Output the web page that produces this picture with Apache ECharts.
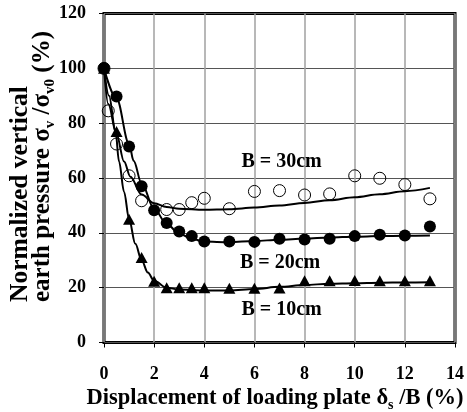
<!DOCTYPE html>
<html>
<head>
<meta charset="utf-8">
<script src="https://cdn.jsdelivr.net/npm/echarts@6/dist/echarts.min.js"></script>
<style>
  html, body { margin: 0; padding: 0; background: #fff; }
  #chart { width: 467px; height: 412px; }
</style>
</head>
<body>
<div id="chart"></div>
<script>
// Axis ticks
const xTicks = [0, 2, 4, 6, 8, 10, 12, 14];
const yTicks = [0, 20, 40, 60, 80, 100, 120];

// Measured points [displacement %, normalized pressure %]
const pointsB30 = [[0,100],[0.17,84.5],[0.5,72.4],[1,60.8],[1.5,51.7],[2.5,48.5],[3,48.5],[3.5,51],[4,52.6],[5,48.8],[6,55.1],[7,55.4],[8,53.8],[9,54.2],[10,60.8],[11,59.9],[12,57.6],[13,52.4]];
const pointsB20 = [[0,100],[0.5,89.7],[1,71.5],[1.5,57],[2,48.2],[2.5,43.6],[3,40.5],[3.5,38.8],[4,36.8],[5,36.8],[6,36.7],[7,37.8],[8,37.6],[9,37.8],[10,38.8],[11,39.3],[12,39],[13,42.3]];
const pointsB10 = [[0,100],[0.5,77],[1,45],[1.5,31],[2,22.3],[2.5,20],[3,20],[3.5,20],[4,20],[5,19.8],[6,19.8],[7,19.9],[8,22.5],[9,22.5],[10,22.6],[11,22.5],[12,22.5],[13,22.5]];

// Trend curves drawn through each data set
const trendB30 = [[0,100],[0.17,87],[0.5,76],[0.8,66],[1.05,60.5],[1.5,54],[2,50.8],[2.5,49.4],[3,48.8],[4,48.4],[5,48.6],[6,49.2],[7,50],[8,50.9],[9,51.9],[10,53],[11,54.1],[12,55.2],[13,56.4]];
const trendB20 = [[0,100],[0.5,89],[1,72.5],[1.18,66.3],[1.5,58],[2,48.8],[2.5,43.2],[3,39.8],[3.5,37.8],[4,36.8],[5,36.6],[6,37],[7,37.5],[8,37.9],[9,38.3],[10,38.6],[11,38.8],[12,38.9],[13,39]];
const trendB10 = [[0,100],[0.2,90],[0.46,77],[0.6,66],[0.8,55],[1,45],[1.25,36],[1.5,30],[1.75,25.5],[2,22.5],[2.5,20],[3,19.3],[4,19],[5,19],[6,19.5],[7,20.3],[8,21],[9,21.4],[10,21.6],[11,21.8],[12,21.9],[13,22]];

const seriesLabels = ['B = 30cm', 'B = 20cm', 'B = 10cm'];

const FONT = "'Liberation Serif', 'Times New Roman', serif";

const chart = echarts.init(document.getElementById('chart'), null, { renderer: 'canvas' });

function trendSeries(data) {
  return {
    type: 'line', data: data, showSymbol: false, smooth: 0.35, smoothMonotone: 'x',
    lineStyle: { color: '#000', width: 2 }, silent: true, z: 2
  };
}

const option = {
  animation: false,
  backgroundColor: '#fff',
  grid: {
    left: 104, right: 10.3, top: 13.5, bottom: 69.5,
    show: true, borderColor: '#000', borderWidth: 3, backgroundColor: 'transparent'
  },
  xAxis: {
    type: 'value', min: xTicks[0], max: xTicks[xTicks.length - 1], interval: 2,
    axisLine: { show: false },
    axisTick: { show: true, length: 5, lineStyle: { color: '#000', width: 1 } },
    axisLabel: { margin: 23, color: '#000', fontFamily: FONT, fontWeight: 'bold', fontSize: 18 },
    splitLine: { show: true, lineStyle: { color: '#a0a0a0', width: 1.5 } }
  },
  yAxis: {
    type: 'value', min: yTicks[0], max: yTicks[yTicks.length - 1], interval: 20,
    axisLine: { show: false },
    axisTick: { show: true, length: 5, lineStyle: { color: '#000', width: 1 } },
    axisLabel: { margin: 18, color: '#000', fontFamily: FONT, fontWeight: 'bold', fontSize: 18 },
    splitLine: { show: true, lineStyle: { color: '#555', width: 1 } }
  },
  series: [
    trendSeries(trendB30),
    trendSeries(trendB20),
    trendSeries(trendB10),
    {
      type: 'scatter', data: pointsB30, symbol: 'circle', symbolSize: 12, z: 3,
      itemStyle: { color: 'rgba(0,0,0,0)', borderColor: '#000', borderWidth: 1, opacity: 1 }
    },
    {
      type: 'scatter', data: pointsB20, symbol: 'circle', symbolSize: 12, z: 4,
      itemStyle: { color: '#000', opacity: 1 }
    },
    {
      type: 'scatter', data: pointsB10, symbol: 'triangle', symbolSize: [12, 11], z: 4,
      itemStyle: { color: '#000', opacity: 1 }
    }
  ],
  graphic: [
    {
      type: 'text', x: 275, y: 398, z: 10,
      style: {
        text: '{m|Displacement of loading plate δ}{s|s}{m| /B (%)}',
        align: 'center', verticalAlign: 'middle',
        rich: {
          m: { fontFamily: FONT, fontWeight: 'bold', fontSize: 22.5, lineHeight: 28, fill: '#000' },
          s: { fontFamily: FONT, fontWeight: 'bold', fontSize: 14, lineHeight: 14, verticalAlign: 'bottom', fill: '#000' }
        }
      }
    },
    {
      type: 'text', x: 20, y: 302, rotation: Math.PI / 2, z: 10,
      style: {
        text: 'Normalized vertical',
        align: 'left', verticalAlign: 'middle',
        fontFamily: FONT, fontWeight: 'bold', fontSize: 25.5, fill: '#000'
      }
    },
    {
      type: 'text', x: 43, y: 302, rotation: Math.PI / 2, z: 10,
      style: {
        text: '{m|earth pressure σ}{s|v}{m| /σ}{s|v0}{m| (%)}',
        align: 'left', verticalAlign: 'middle',
        rich: {
          m: { fontFamily: FONT, fontWeight: 'bold', fontSize: 25, lineHeight: 30, fill: '#000' },
          s: { fontFamily: FONT, fontWeight: 'bold', fontSize: 15, lineHeight: 15, verticalAlign: 'bottom', fill: '#000' }
        }
      }
    },
    {
      type: 'text', x: 241.5, y: 162, z: 10,
      style: { text: seriesLabels[0], align: 'left', verticalAlign: 'middle',
        fontFamily: FONT, fontWeight: 'bold', fontSize: 20, fill: '#000' }
    },
    {
      type: 'text', x: 240, y: 263, z: 10,
      style: { text: seriesLabels[1], align: 'left', verticalAlign: 'middle',
        fontFamily: FONT, fontWeight: 'bold', fontSize: 20, fill: '#000' }
    },
    {
      type: 'text', x: 241.5, y: 310, z: 10,
      style: { text: seriesLabels[2], align: 'left', verticalAlign: 'middle',
        fontFamily: FONT, fontWeight: 'bold', fontSize: 20, fill: '#000' }
    }
  ]
};

chart.setOption(option);
</script>
</body>
</html>
